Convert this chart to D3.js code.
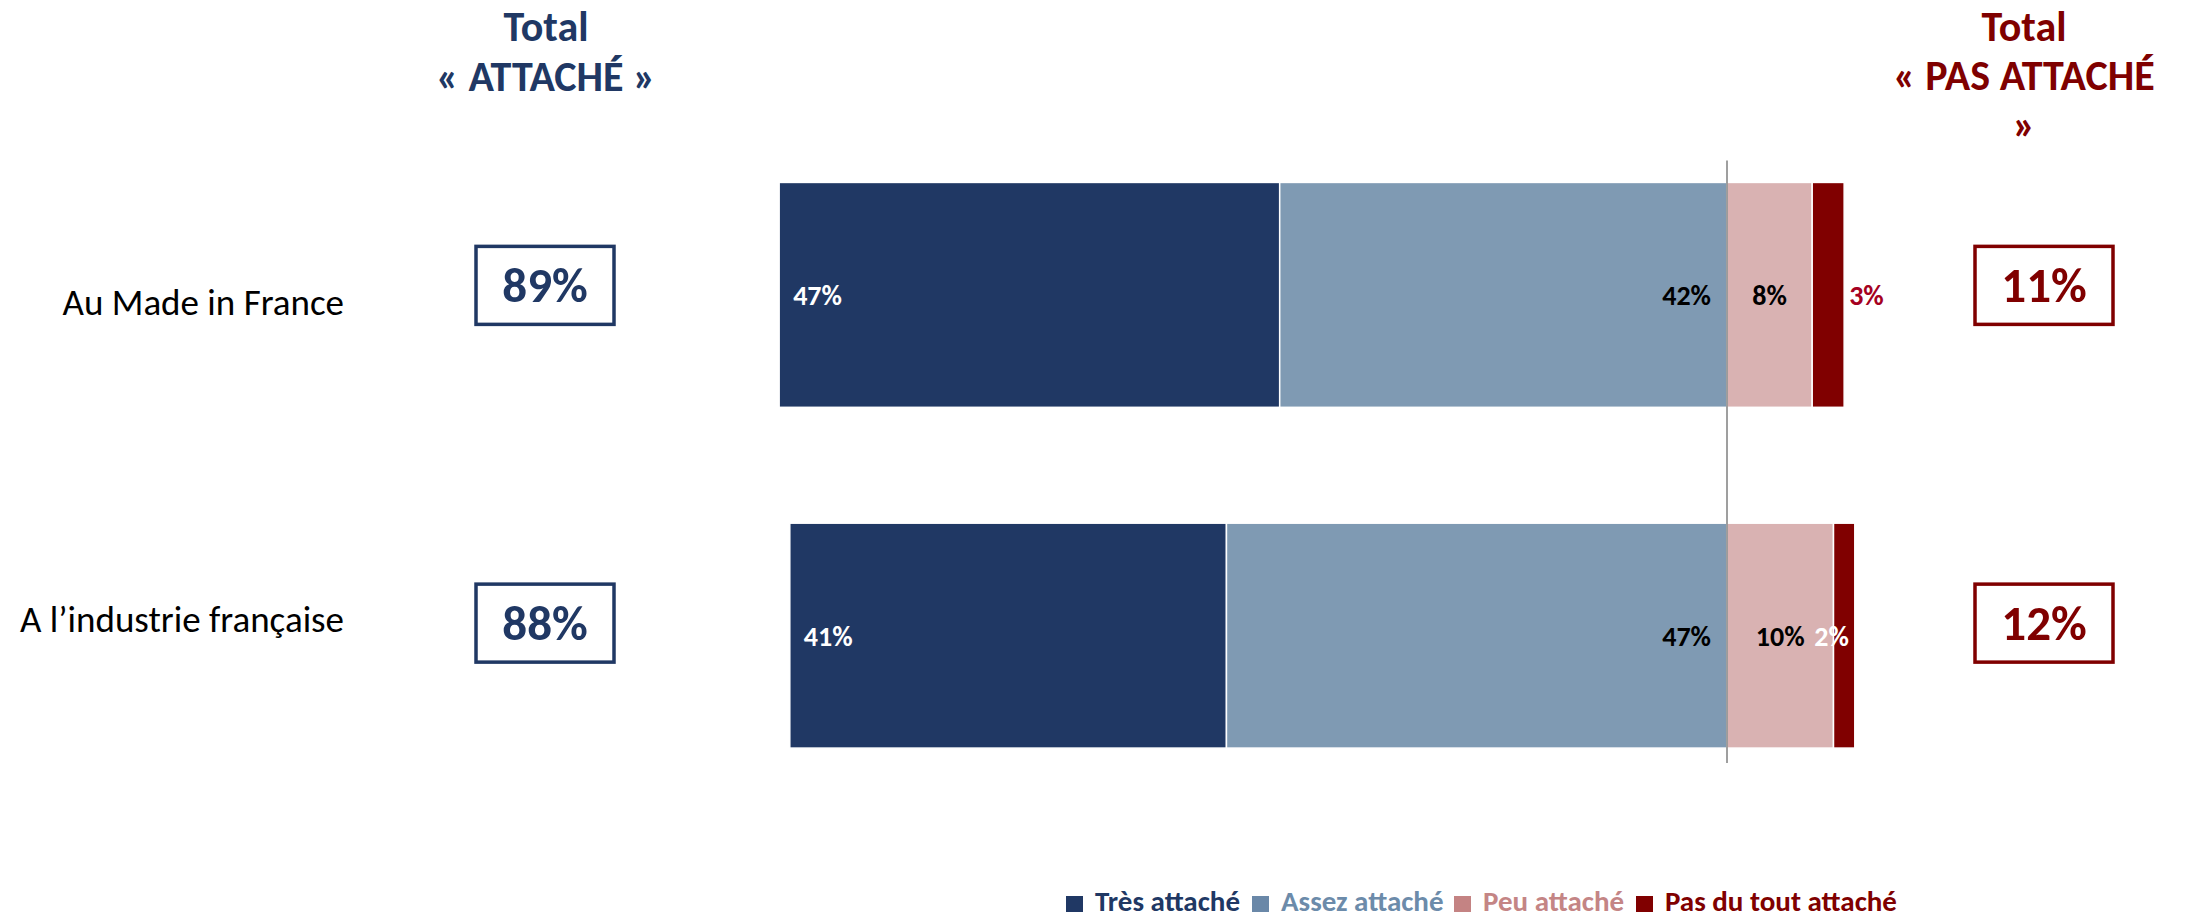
<!DOCTYPE html>
<html><head><meta charset="utf-8">
<script src="https://cdn.jsdelivr.net/npm/d3@7"></script>
<style>html,body{margin:0;padding:0;background:#fff;}</style>
</head><body>
<svg id="c" width="2187" height="918"></svg>
<script>
const categories = ["Au Made in France", "A l\u2019industrie fran\u00e7aise"];
const tresAttache = [47, 41];
const assezAttache = [42, 47];
const peuAttache = [8, 10];
const pasDuToutAttache = [3, 2];
const seriesNames = ["Très attaché", "Assez attaché", "Peu attaché", "Pas du tout attaché"];
const headerLeft = ["Total", "« ATTACHÉ »"];
const headerRight = ["Total", "« PAS ATTACHÉ", "»"];

const FONT = "Carlito, Calibri, Lato, 'Open Sans', sans-serif";
const NAVY = "#203864", STEEL = "#7F9AB3", PINK = "#D9B2B2", DARKRED = "#800000";
const svg = d3.select("#c").style("font-family", FONT);

const x = d3.scaleLinear().domain([-100, 100]).range([1727 - 1065, 1727 + 1065]);
const y = d3.scaleBand().domain(categories).range([124.5, 806]).paddingInner(0.34).paddingOuter(0.17);
const bw = y.bandwidth();

const rows = categories.map((c, i) => ({
  cat: c, i,
  segs: [
    {v: tresAttache[i], x0: -(tresAttache[i] + assezAttache[i]), x1: -assezAttache[i], fill: NAVY},
    {v: assezAttache[i], x0: -assezAttache[i], x1: 0, fill: STEEL},
    {v: peuAttache[i], x0: 0, x1: peuAttache[i], fill: PINK},
    {v: pasDuToutAttache[i], x0: peuAttache[i], x1: peuAttache[i] + pasDuToutAttache[i], fill: DARKRED}
  ]
}));

// bars
const g = svg.append("g");
rows.forEach(r => {
  g.selectAll(null).data(r.segs).enter().append("rect")
    .attr("x", d => x(d.x0)).attr("width", d => x(d.x1) - x(d.x0))
    .attr("y", y(r.cat)).attr("height", bw)
    .attr("fill", d => d.fill).attr("stroke", "#fff").attr("stroke-width", 1.5);
});

// divider
svg.append("line").attr("x1", x(0)).attr("x2", x(0))
  .attr("y1", y(categories[0]) - 22).attr("y2", y(categories[1]) + bw + 15)
  .attr("stroke", "#7f7f7f").attr("stroke-width", 1.5);

// segment labels
rows.forEach(r => {
  const cy = y(r.cat) + bw / 2 + 10;
  const s = r.segs;
  const lab = (xx, anchor, fill, v) => svg.append("text").attr("x", xx).attr("y", cy)
    .attr("text-anchor", anchor).attr("fill", fill).attr("font-weight", "bold")
    .attr("font-size", 28).text(v + "%");
  lab(x(s[0].x0) + 14, "start", "#fff", s[0].v);
  lab(x(0) - 16, "end", "#000", s[1].v);
  lab((x(s[2].x0) + x(s[2].x1)) / 2, "middle", "#000", s[2].v);
  if (r.i === 0) lab(x(s[3].x1) + 5, "start", "#A50021", s[3].v);
  else lab(x(s[3].x1) - 6, "end", "#fff", s[3].v);
});

// category labels
const labelNudge = [8, -16];
rows.forEach(r => {
  svg.append("text").attr("x", 344).attr("y", y(r.cat) + bw / 2 + labelNudge[r.i] + 12)
    .attr("text-anchor", "end").attr("font-size", 37).attr("fill", "#000").text(r.cat);
});

// total boxes
const boxNudge = [-9.5, -12.5];
rows.forEach(r => {
  const cy = y(r.cat) + bw / 2 + boxNudge[r.i];
  const totA = tresAttache[r.i] + assezAttache[r.i];
  const totP = peuAttache[r.i] + pasDuToutAttache[r.i];
  [[476, totA, NAVY], [1975, totP, DARKRED]].forEach(([bx, v, col]) => {
    svg.append("rect").attr("x", bx).attr("y", cy - 39).attr("width", 138).attr("height", 78)
      .attr("fill", "#fff").attr("stroke", col).attr("stroke-width", 3.5);
    svg.append("text").attr("x", bx + 69).attr("y", cy + 17).attr("text-anchor", "middle")
      .attr("font-weight", "bold").attr("font-size", 49).attr("fill", col).text(v + "%");
  });
});

// headers
headerLeft.forEach((t, k) => svg.append("text").attr("x", 546).attr("y", 41 + 50 * k)
  .attr("text-anchor", "middle").attr("font-weight", "bold").attr("font-size", 42)
  .attr("fill", NAVY).text(t));
headerRight.forEach((t, k) => svg.append("text").attr("x", 2024).attr("y", 41 + 49 * k)
  .attr("text-anchor", "middle").attr("font-weight", "bold").attr("font-size", 42)
  .attr("fill", "#7F0000").text(t));

// legend
const legSq = [NAVY, "#6A88A8", "#C48383", DARKRED];
const legTx = [NAVY, "#6C8BAA", "#C48585", DARKRED];
const legX = [1066, 1252, 1454, 1636];
seriesNames.forEach((n, k) => {
  svg.append("rect").attr("x", legX[k]).attr("y", 896).attr("width", 17).attr("height", 16).attr("fill", legSq[k]);
  svg.append("text").attr("x", legX[k] + 29).attr("y", 911).attr("font-weight", "bold")
    .attr("font-size", 29).attr("fill", legTx[k]).text(n);
});
</script>
</body></html>
